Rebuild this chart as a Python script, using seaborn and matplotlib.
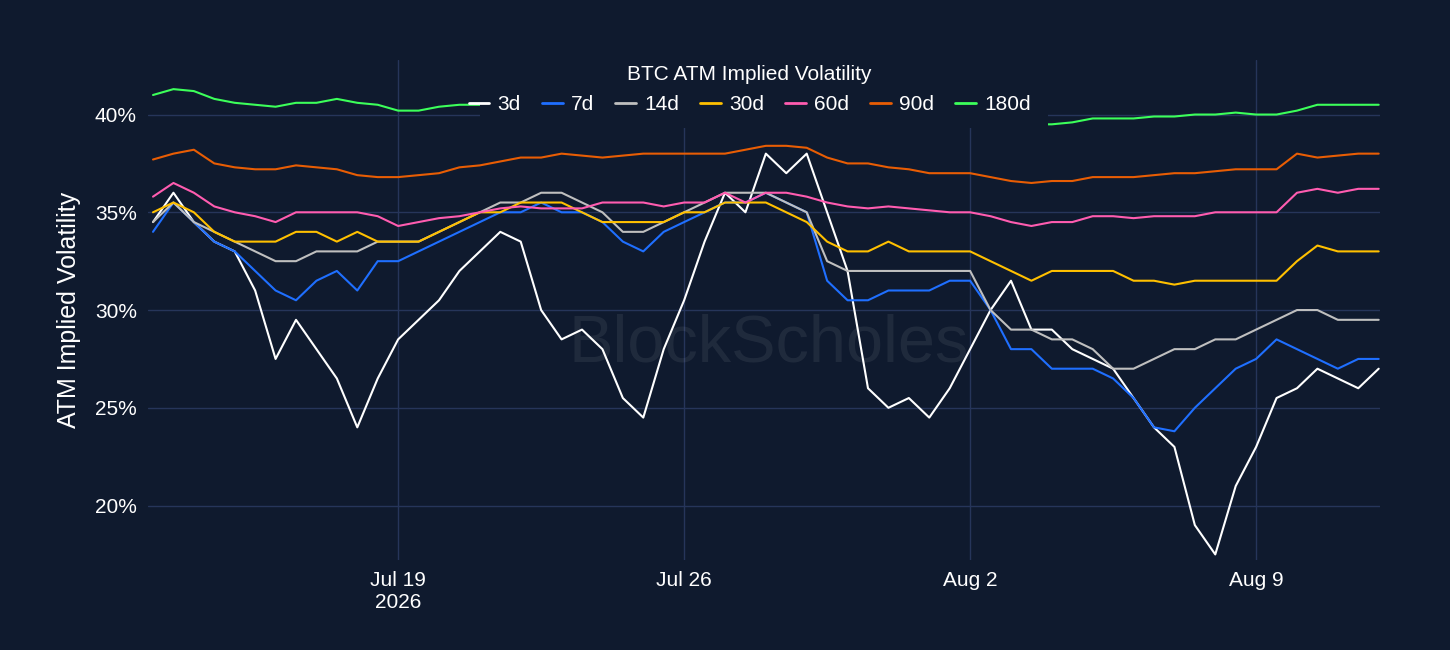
import numpy as np
import pandas as pd
import matplotlib.pyplot as plt
from matplotlib.patches import Rectangle
from matplotlib.ticker import FuncFormatter
import seaborn as sns

BG = "#0f1a2e"
GRID = "#26355a"

start = pd.Timestamp("2026-07-13 00:00")

vol_3d = [34.5, 36, 34.5, 33.5, 33, 31, 27.5, 29.5, 28, 26.5, 24, 26.5, 28.5, 29.5, 30.5, 32,
          33, 34, 33.5, 30, 28.5, 29, 28, 25.5, 24.5, 28, 30.5, 33.5, 36, 35, 38, 37,
          38, 35, 32, 26, 25, 25.5, 24.5, 26, 28, 30, 31.5, 29, 29, 28, 27.5, 27,
          25.5, 24, 23, 19, 17.5, 21, 23, 25.5, 26, 27, 26.5, 26, 27]
vol_7d = [34, 35.5, 34.5, 33.5, 33, 32, 31, 30.5, 31.5, 32, 31, 32.5, 32.5, 33, 33.5, 34,
          34.5, 35, 35, 35.5, 35, 35, 34.5, 33.5, 33, 34, 34.5, 35, 35.5, 35.5, 36, 35.5,
          35, 31.5, 30.5, 30.5, 31, 31, 31, 31.5, 31.5, 30, 28, 28, 27, 27, 27, 26.5,
          25.5, 24, 23.8, 25, 26, 27, 27.5, 28.5, 28, 27.5, 27, 27.5, 27.5]
vol_14d = [34.5, 35.5, 34.5, 34, 33.5, 33, 32.5, 32.5, 33, 33, 33, 33.5, 33.5, 33.5, 34, 34.5,
           35, 35.5, 35.5, 36, 36, 35.5, 35, 34, 34, 34.5, 35, 35.5, 36, 36, 36, 35.5,
           35, 32.5, 32, 32, 32, 32, 32, 32, 32, 30, 29, 29, 28.5, 28.5, 28, 27,
           27, 27.5, 28, 28, 28.5, 28.5, 29, 29.5, 30, 30, 29.5, 29.5, 29.5]
vol_30d = [35, 35.5, 35, 34, 33.5, 33.5, 33.5, 34, 34, 33.5, 34, 33.5, 33.5, 33.5, 34, 34.5,
           35, 35, 35.5, 35.5, 35.5, 35, 34.5, 34.5, 34.5, 34.5, 35, 35, 35.5, 35.5, 35.5, 35,
           34.5, 33.5, 33, 33, 33.5, 33, 33, 33, 33, 32.5, 32, 31.5, 32, 32, 32, 32,
           31.5, 31.5, 31.3, 31.5, 31.5, 31.5, 31.5, 31.5, 32.5, 33.3, 33, 33, 33]
vol_60d = [35.8, 36.5, 36, 35.3, 35, 34.8, 34.5, 35, 35, 35, 35, 34.8, 34.3, 34.5, 34.7, 34.8,
           35, 35.2, 35.3, 35.2, 35.2, 35.2, 35.5, 35.5, 35.5, 35.3, 35.5, 35.5, 36, 35.5, 36, 36,
           35.8, 35.5, 35.3, 35.2, 35.3, 35.2, 35.1, 35, 35, 34.8, 34.5, 34.3, 34.5, 34.5, 34.8, 34.8,
           34.7, 34.8, 34.8, 34.8, 35, 35, 35, 35, 36, 36.2, 36, 36.2, 36.2]
vol_90d = [37.7, 38, 38.2, 37.5, 37.3, 37.2, 37.2, 37.4, 37.3, 37.2, 36.9, 36.8, 36.8, 36.9, 37, 37.3,
           37.4, 37.6, 37.8, 37.8, 38, 37.9, 37.8, 37.9, 38, 38, 38, 38, 38, 38.2, 38.4, 38.4,
           38.3, 37.8, 37.5, 37.5, 37.3, 37.2, 37, 37, 37, 36.8, 36.6, 36.5, 36.6, 36.6, 36.8, 36.8,
           36.8, 36.9, 37, 37, 37.1, 37.2, 37.2, 37.2, 38, 37.8, 37.9, 38, 38]
vol_180d = [41, 41.3, 41.2, 40.8, 40.6, 40.5, 40.4, 40.6, 40.6, 40.8, 40.6, 40.5, 40.2, 40.2, 40.4, 40.5,
            40.5, 40.4, 40.5, 40.5, 40.4, 40.3, 40.3, 40.2, 40.2, 40.2, 40.1, 40, 40, 40, 39.9, 39.9,
            39.8, 39.8, 39.7, 39.7, 39.6, 39.6, 39.6, 39.5, 39.5, 39.5, 39.5, 39.5, 39.5, 39.6, 39.8, 39.8,
            39.8, 39.9, 39.9, 40, 40, 40.1, 40, 40, 40.2, 40.5, 40.5, 40.5, 40.5]

tenors = ["3d", "7d", "14d", "30d", "60d", "90d", "180d"]
series = [vol_3d, vol_7d, vol_14d, vol_30d, vol_60d, vol_90d, vol_180d]
colors = ["#ffffff", "#1f6fff", "#bfbfbf", "#ffc000", "#ff5cb0", "#e85d04", "#3cff5a"]

frames = []
for name, vals in zip(tenors, series):
    t = start + pd.to_timedelta(np.arange(len(vals)) * 12, unit="h")
    frames.append(pd.DataFrame({"time": t, "vol": vals, "tenor": name}))
df = pd.concat(frames, ignore_index=True)

sns.set_theme(style="dark")
plt.rcParams["font.family"] = ["Liberation Sans", "DejaVu Sans"]

fig = plt.figure(figsize=(14.5, 6.5), dpi=100, facecolor=BG)
ax = fig.add_axes([0.102, 0.138, 0.85, 0.77], facecolor=BG)

fig.text(0.53, 0.47, "BlockScholes", color="#ffffff", alpha=0.07, fontsize=48,
         ha="center", va="center")

sns.lineplot(data=df, x="time", y="vol", hue="tenor", palette=colors,
             hue_order=tenors, linewidth=1.5, ax=ax, legend=False)

ax.set_ylim(17.2, 42.8)
ax.set_xlim(pd.Timestamp("2026-07-12 21:00"), pd.Timestamp("2026-08-12 01:00"))
ax.set_yticks([20, 25, 30, 35, 40])
ax.yaxis.set_major_formatter(FuncFormatter(lambda v, _: f"{v:.0f}%"))
ticks = [pd.Timestamp(d) for d in ["2026-07-19", "2026-07-26", "2026-08-02", "2026-08-09"]]
ax.set_xticks(ticks)
ax.set_xticklabels(["Jul 19\n2026", "Jul 26", "Aug 2", "Aug 9"])
ax.grid(True, color=GRID, linewidth=1)
ax.tick_params(colors="white", labelsize=15, length=0, pad=8)
for s in ax.spines.values():
    s.set_visible(False)
ax.set_xlabel("")
ax.set_ylabel("ATM Implied Volatility", color="white", fontsize=18, labelpad=10)

# legend background box covering the plot top, as in the reference
fig.patches.append(Rectangle((480 / 1450, 1 - 128 / 650), 568 / 1450, 72 / 650,
                             transform=fig.transFigure, facecolor=BG, edgecolor="none",
                             zorder=5))

handles = [plt.Line2D([], [], color=c, linewidth=2) for c in colors]
leg = fig.legend(handles, tenors, loc="upper center", bbox_to_anchor=(0.517, 0.925),
                 ncol=7, frameon=False, fontsize=15, handlelength=1.0,
                 handletextpad=0.4, columnspacing=1.0,
                 title="BTC ATM Implied Volatility", title_fontsize=15, borderpad=0.3)
leg.set_zorder(6)
for txt in leg.get_texts():
    txt.set_color("white")
leg.get_title().set_color("white")

fig.savefig("out.png", dpi=100, facecolor=BG)
